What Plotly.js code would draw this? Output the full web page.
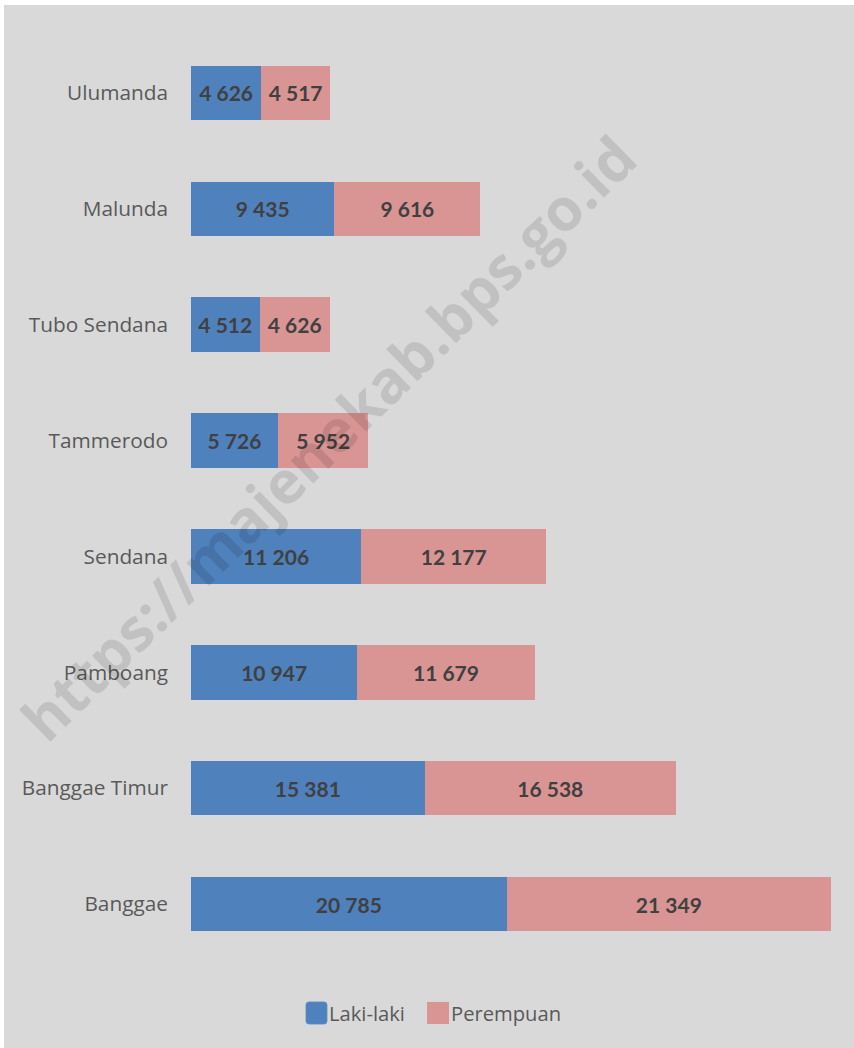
<!DOCTYPE html>
<html>
<head>
<meta charset="utf-8">
<script src="https://cdn.plot.ly/plotly-3.0.1.min.js"></script>
<style>
  html, body { margin: 0; padding: 0; background: #ffffff; }
  #chart { position: absolute; left: 4px; top: 5px; width: 850px; height: 1043px; }
</style>
</head>
<body>
<div id="chart"></div>
<script>
const categories = ["Banggae", "Banggae Timur", "Pamboang", "Sendana", "Tammerodo", "Tubo Sendana", "Malunda", "Ulumanda"];
const lakiLaki = [20785, 15381, 10947, 11206, 5726, 4512, 9435, 4626];
const perempuan = [21349, 16538, 11679, 12177, 5952, 4626, 9616, 4517];
const seriesNames = ["Laki-laki", "Perempuan"];
const seriesColors = ["#4f81bd", "#d99594"];

function fmt(v) {
  return String(v).replace(/\B(?=(\d{3})+(?!\d))/g, " ");
}

const labelFont = { family: "Lato, 'Open Sans', sans-serif", size: 21, color: "#404040", weight: "bold" };

const traces = [
  {
    type: "bar", orientation: "h", name: seriesNames[0],
    y: categories, x: lakiLaki,
    text: lakiLaki.map(fmt), textposition: "inside", insidetextanchor: "middle",
    constraintext: "none", textfont: labelFont,
    marker: { color: seriesColors[0] }, hoverinfo: "none", showlegend: false
  },
  {
    type: "bar", orientation: "h", name: seriesNames[1],
    y: categories, x: perempuan,
    text: perempuan.map(fmt), textposition: "inside", insidetextanchor: "middle",
    constraintext: "none", textfont: labelFont,
    marker: { color: seriesColors[1] }, hoverinfo: "none", showlegend: false
  }
];

const totalMax = Math.max(...lakiLaki.map((v, i) => v + perempuan[i]));

// legend drawn as shapes + annotations (paper coords)
const rx = 3 / 640, ry = 3 / 927;
function roundedRect(x0, x1, y0, y1) {
  return `M ${x0 + rx} ${y0} L ${x1 - rx} ${y0} Q ${x1} ${y0} ${x1} ${y0 - ry} ` +
         `L ${x1} ${y1 + ry} Q ${x1} ${y1} ${x1 - rx} ${y1} L ${x0 + rx} ${y1} ` +
         `Q ${x0} ${y1} ${x0} ${y1 + ry} L ${x0} ${y0 - ry} Q ${x0} ${y0} ${x0 + rx} ${y0} Z`;
}
const legY0 = -0.0431, legY1 = -0.0669, legYc = -0.055;
const shapes = [
  { type: "path", xref: "paper", yref: "paper", path: roundedRect(0.1797, 0.2125, legY0, legY1),
    fillcolor: seriesColors[0], line: { width: 0.8, color: "#5a8ac6" } },
  { type: "rect", xref: "paper", yref: "paper", x0: 0.3688, x1: 0.4031, y0: legY1, y1: legY0,
    fillcolor: seriesColors[1], line: { width: 0 } }
];

const textFamily = "'Open Sans', Lato, sans-serif";

const layout = {
  width: 850, height: 1043,
  barmode: "stack", bargap: 0.53,
  paper_bgcolor: "#d9d9d9", plot_bgcolor: "#d9d9d9",
  margin: { l: 187, r: 23, t: 30, b: 86 },
  font: { family: textFamily, color: "#595959" },
  xaxis: { range: [0, totalMax], visible: false, fixedrange: true },
  yaxis: {
    categoryorder: "array", categoryarray: categories,
    showline: false, showgrid: false, zeroline: false, ticks: "",
    ticklabelstandoff: 22,
    tickfont: { size: 20.8, color: "#595959", family: textFamily },
    fixedrange: true
  },
  showlegend: false,
  shapes: shapes,
  annotations: [
    {
      text: "https://majenekab.bps.go.id",
      xref: "paper", yref: "paper", x: 0.214, y: 0.566,
      xanchor: "center", yanchor: "middle", showarrow: false,
      textangle: -44.5,
      font: { family: textFamily, size: 59, color: "rgba(0,0,0,0.11)", weight: "bold" }
    },
    {
      text: seriesNames[0], xref: "paper", yref: "paper", x: 0.2125, y: legYc,
      xanchor: "left", yanchor: "middle", showarrow: false,
      font: { size: 20.2, color: "#595959", family: textFamily }
    },
    {
      text: seriesNames[1], xref: "paper", yref: "paper", x: 0.4031, y: legYc,
      xanchor: "left", yanchor: "middle", showarrow: false,
      font: { size: 20.2, color: "#595959", family: textFamily }
    }
  ]
};

Plotly.newPlot("chart", traces, layout, { displayModeBar: false, staticPlot: true });
</script>
</body>
</html>
